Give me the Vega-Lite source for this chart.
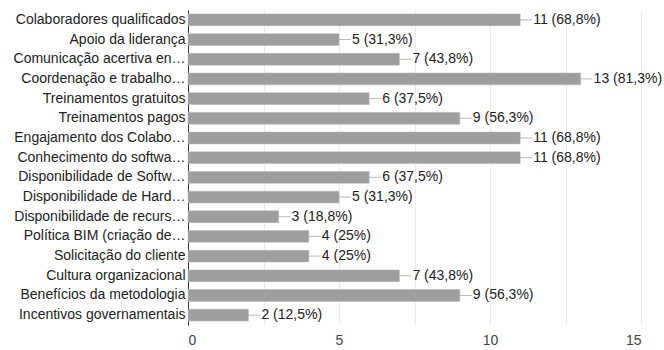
{
  "$schema": "https://vega.github.io/schema/vega-lite/v6.json",
  "autosize": {"type": "none"},
  "padding": {"left": 188, "top": 10, "right": 23, "bottom": 25},
  "width": 453,
  "height": 315,
  "background": "white",
  "config": {
    "view": {"stroke": null},
    "font": "Liberation Sans"
  },
  "data": {
    "values": [
      {"cat": "Colaboradores qualificados", "n": 11, "label": "11 (68,8%)"},
      {"cat": "Apoio da liderança", "n": 5, "label": "5 (31,3%)"},
      {"cat": "Comunicação acertiva en…", "n": 7, "label": "7 (43,8%)"},
      {"cat": "Coordenação e trabalho…", "n": 13, "label": "13 (81,3%)"},
      {"cat": "Treinamentos gratuitos", "n": 6, "label": "6 (37,5%)"},
      {"cat": "Treinamentos pagos", "n": 9, "label": "9 (56,3%)"},
      {"cat": "Engajamento dos Colabo…", "n": 11, "label": "11 (68,8%)"},
      {"cat": "Conhecimento do softwa…", "n": 11, "label": "11 (68,8%)"},
      {"cat": "Disponibilidade de Softw…", "n": 6, "label": "6 (37,5%)"},
      {"cat": "Disponibilidade de Hard…", "n": 5, "label": "5 (31,3%)"},
      {"cat": "Disponibilidade de recurs…", "n": 3, "label": "3 (18,8%)"},
      {"cat": "Política BIM (criação de…", "n": 4, "label": "4 (25%)"},
      {"cat": "Solicitação do cliente", "n": 4, "label": "4 (25%)"},
      {"cat": "Cultura organizacional", "n": 7, "label": "7 (43,8%)"},
      {"cat": "Benefícios da metodologia", "n": 9, "label": "9 (56,3%)"},
      {"cat": "Incentivos governamentais", "n": 2, "label": "2 (12,5%)"}
    ]
  },
  "encoding": {
    "y": {
      "field": "cat",
      "type": "nominal",
      "sort": null,
      "scale": {"paddingInner": 0.4, "paddingOuter": 0.2},
      "axis": {
        "title": null,
        "ticks": false,
        "domain": true,
        "domainColor": "#333333",
        "domainWidth": 1,
        "labelFontSize": 14,
        "labelColor": "#222222",
        "labelPadding": 3,
        "labelLimit": 0,
        "grid": false
      }
    },
    "x": {
      "field": "n",
      "type": "quantitative",
      "scale": {"domain": [0, 15], "nice": false},
      "axis": {
        "title": null,
        "values": [0, 2.5, 5, 7.5, 10, 12.5, 15],
        "labelExpr": "datum.value % 5 === 0 ? datum.label : ''",
        "ticks": false,
        "domain": false,
        "grid": true,
        "gridColor": "#ebebeb",
        "gridWidth": 1,
        "labelFontSize": 14,
        "labelColor": "#444444",
        "labelPadding": 8
      }
    }
  },
  "layer": [
    {
      "mark": {"type": "bar", "color": "#9e9e9e", "stroke": "#b5b5b5", "strokeWidth": 0.5}
    },
    {
      "mark": {"type": "tick", "orient": "horizontal", "size": 12, "thickness": 1, "xOffset": 6, "color": "#9e9e9e"}
    },
    {
      "mark": {"type": "text", "align": "left", "baseline": "middle", "dx": 13, "fontSize": 14, "color": "#222222"},
      "encoding": {"text": {"field": "label"}}
    }
  ]
}
